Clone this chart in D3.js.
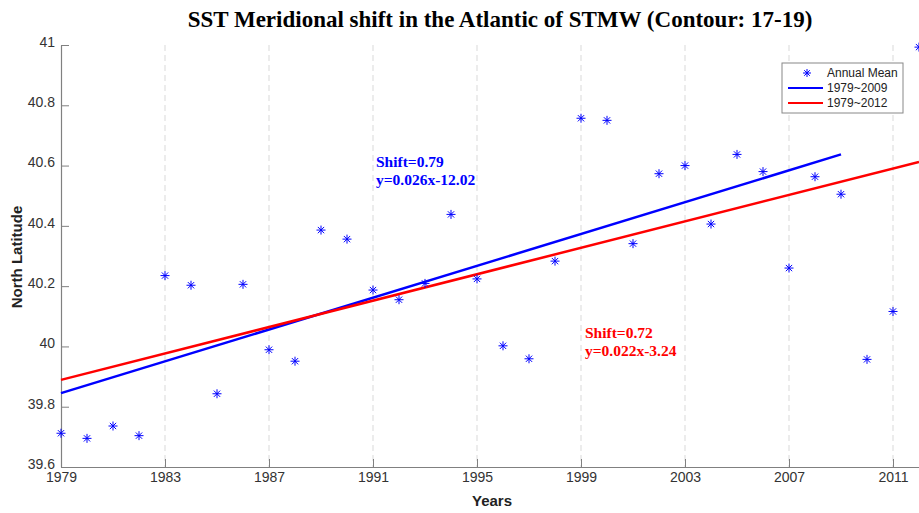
<!DOCTYPE html>
<html>
<head>
<meta charset="utf-8">
<script src="https://cdn.jsdelivr.net/npm/d3@7"></script>
<style>
  body { margin: 0; background: #fff; }
  svg { display: block; }
</style>
</head>
<body>
<script>
var w = 919, h = 513;

// annual mean latitude of the 17-19 contour
var years = [1979, 1980, 1981, 1982, 1983, 1984, 1985, 1986, 1987, 1988, 1989, 1990,
  1991, 1992, 1993, 1994, 1995, 1996, 1997, 1998, 1999, 2000, 2001, 2002,
  2003, 2004, 2005, 2006, 2007, 2008, 2009, 2010, 2011, 2012];
var annualMean = [39.712, 39.695, 39.736, 39.704, 40.235, 40.203, 39.843, 40.206, 39.989, 39.951, 40.386, 40.356,
  40.187, 40.155, 40.209, 40.438, 40.224, 40.002, 39.959, 40.283, 40.757, 40.750, 40.341, 40.573,
  40.600, 40.406, 40.637, 40.580, 40.260, 40.563, 40.505, 39.957, 40.116, 40.993];

// fitted trend lines (end points)
var fitNames = ["1979~2009", "1979~2012"];
var fitColors = ["#0000ff", "#ff0000"];
var fitYears = [[1979, 2009], [1979, 2012]];
var fitValues = [[39.845, 40.637], [39.889, 40.612]];

var xTicks = [1979, 1983, 1987, 1991, 1995, 1999, 2003, 2007, 2011];
var yTicks = [39.6, 39.8, 40, 40.2, 40.4, 40.6, 40.8, 41];
var yTickLabels = ["39.6", "39.8", "40", "40.2", "40.4", "40.6", "40.8", "41"];

var m = {left: 61, right: 0, top: 45, bottom: 46};

var svg = d3.select("body").append("svg")
  .attr("width", w)
  .attr("height", h);

var x = d3.scaleLinear().domain([1979, 2012]).range([m.left, w - m.right]);
var y = d3.scaleLinear().domain([39.6, 41]).range([h - m.bottom, m.top]);

// dashed vertical grid
svg.append("g").selectAll("line")
  .data(xTicks.slice(1))
  .enter().append("line")
  .attr("x1", function(d){ return x(d) })
  .attr("x2", function(d){ return x(d) })
  .attr("y1", y(41))
  .attr("y2", y(39.6))
  .attr("stroke", "#d9d9d9")
  .attr("stroke-width", 1)
  .attr("stroke-dasharray", "6,4");

// axes
var xAxis = d3.axisBottom(x).tickValues(xTicks).tickFormat(d3.format("d"))
  .tickSizeInner(-8).tickSizeOuter(0).tickPadding(7);
var yAxis = d3.axisLeft(y).tickValues(yTicks)
  .tickFormat(function(d, i){ return yTickLabels[i] })
  .tickSizeInner(-8).tickSizeOuter(0).tickPadding(6);

var gx = svg.append("g").attr("transform", "translate(0," + y(39.6) + ")").call(xAxis);
var gy = svg.append("g").attr("transform", "translate(" + x(1979) + ",0)").call(yAxis);

[gx, gy].forEach(function(g){
  g.select(".domain").attr("stroke", "#808080").attr("stroke-width", 1.2);
  g.selectAll(".tick line").attr("stroke", "#808080");
  g.selectAll(".tick text")
    .attr("fill", "#333")
    .attr("font-family", "Liberation Sans, Arial, sans-serif")
    .attr("font-size", "14px");
});
gy.selectAll(".tick text").attr("dy", "0.1em");
gx.selectAll(".tick text").attr("dy", "0.6em");

// trend lines
var line = d3.line()
  .x(function(d){ return x(d[0]) })
  .y(function(d){ return y(d[1]) });

fitNames.forEach(function(name, i){
  svg.append("path")
    .datum(d3.zip(fitYears[i], fitValues[i]))
    .attr("d", line)
    .attr("fill", "none")
    .attr("stroke", fitColors[i])
    .attr("stroke-width", 2.5);
});

// asterisk markers
function star(g, cx, cy, s){
  var d = s * 0.7;
  var segs = [[-s, 0, s, 0], [0, -s, 0, s], [-d, -d, d, d], [-d, d, d, -d]];
  segs.forEach(function(p){
    g.append("line")
      .attr("x1", cx + p[0]).attr("y1", cy + p[1])
      .attr("x2", cx + p[2]).attr("y2", cy + p[3])
      .attr("stroke", "#0000ff")
      .attr("stroke-width", 1);
  });
}

var gPts = svg.append("g");
years.forEach(function(yr, i){
  star(gPts, x(yr), y(annualMean[i]), 4.5);
});

// annotations (one text per line)
var serif = "Liberation Serif, Times New Roman, serif";
function note(tx, ty, lines, color){
  lines.forEach(function(s, i){
    svg.append("text")
      .attr("x", tx).attr("y", ty + i * 18)
      .attr("font-family", serif)
      .attr("font-weight", "bold")
      .attr("font-size", "15.5px")
      .attr("fill", color)
      .text(s);
  });
}
note(376, 167, ["Shift=0.79", "y=0.026x-12.02"], "#0000ff");
note(585, 338, ["Shift=0.72", "y=0.022x-3.24"], "#ff0000");

// title and axis labels
svg.append("text")
  .attr("x", 500)
  .attr("y", 27)
  .attr("text-anchor", "middle")
  .attr("font-family", serif)
  .attr("font-weight", "bold")
  .attr("font-size", "23px")
  .attr("fill", "#000")
  .text("SST Meridional shift in the Atlantic of STMW (Contour: 17-19)");

svg.append("text")
  .attr("x", 492)
  .attr("y", 506)
  .attr("text-anchor", "middle")
  .attr("font-family", "Liberation Sans, Arial, sans-serif")
  .attr("font-weight", "bold")
  .attr("font-size", "15px")
  .attr("fill", "#222")
  .text("Years");

svg.append("text")
  .attr("transform", "translate(22," + 257 + ") rotate(-90)")
  .attr("text-anchor", "middle")
  .attr("font-family", "Liberation Sans, Arial, sans-serif")
  .attr("font-weight", "bold")
  .attr("font-size", "15px")
  .attr("fill", "#222")
  .text("North Latitude");

// legend
var lg = svg.append("g").attr("transform", "translate(782,63)");
lg.append("rect")
  .attr("width", 121).attr("height", 50)
  .attr("fill", "#fff")
  .attr("stroke", "#888")
  .attr("stroke-width", 1);

var lgLabels = ["Annual Mean"].concat(fitNames);
lgLabels.forEach(function(lab, i){
  var ly = 10 + i * 15;
  if (i === 0) {
    star(lg, 25, ly, 4);
  } else {
    lg.append("line")
      .attr("x1", 6).attr("x2", 41)
      .attr("y1", ly).attr("y2", ly)
      .attr("stroke", fitColors[i - 1])
      .attr("stroke-width", 2);
  }
  lg.append("text")
    .attr("x", 45).attr("y", ly + 4)
    .attr("font-family", "Liberation Sans, Arial, sans-serif")
    .attr("font-size", "12px")
    .attr("fill", "#222")
    .text(lab);
});
</script>
</body>
</html>
